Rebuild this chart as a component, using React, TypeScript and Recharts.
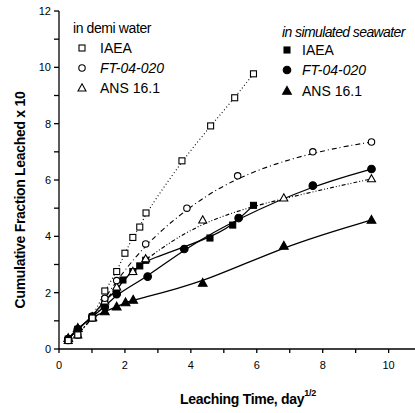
import React from "react";
import { LineChart, Line, XAxis, YAxis } from "recharts";

// in demi water
const demiIaeaX = [0.28, 0.57, 1.01, 1.39, 1.75, 2.0, 2.24, 2.45, 2.64, 3.73, 4.6, 5.33, 5.9];
const demiIaeaY = [0.3, 0.5, 1.1, 2.06, 2.75, 3.4, 3.96, 4.33, 4.83, 6.68, 7.92, 8.92, 9.77];
const demiFtX = [0.28, 0.57, 1.01, 1.39, 1.75, 2.63, 3.88, 5.42, 7.7, 9.48];
const demiFtY = [0.3, 0.5, 1.1, 1.8, 2.43, 3.73, 5.0, 6.15, 7.0, 7.35];
const demiAnsX = [0.28, 0.57, 1.01, 1.39, 1.75, 2.24, 2.63, 4.36, 6.82, 9.48];
const demiAnsY = [0.3, 0.5, 1.1, 1.7, 2.2, 2.75, 3.2, 4.58, 5.36, 6.04];

// in simulated seawater
const seaIaeaX = [0.28, 0.57, 1.01, 1.39, 1.75, 1.94, 2.24, 2.45, 2.63, 4.58, 5.27, 5.9];
const seaIaeaY = [0.35, 0.7, 1.15, 1.75, 2.05, 2.45, 2.75, 2.95, 3.15, 3.94, 4.4, 5.1];
const seaFtX = [0.28, 0.57, 1.01, 1.39, 1.75, 2.69, 3.8, 5.45, 7.7, 9.48];
const seaFtY = [0.35, 0.7, 1.15, 1.5, 1.95, 2.57, 3.55, 4.65, 5.8, 6.39];
const seaAnsX = [0.28, 0.57, 1.01, 1.39, 1.75, 2.02, 2.25, 4.36, 6.82, 9.48];
const seaAnsY = [0.38, 0.74, 1.13, 1.33, 1.5, 1.65, 1.74, 2.34, 3.66, 4.58];

const xTicks = [0, 1, 2, 3, 4, 5, 6, 7, 8, 9, 10];
const yTicks = [0, 1, 2, 3, 4, 5, 6, 7, 8, 9, 10, 11, 12];

const pts = (xs: number[], ys: number[]) => xs.map((x, i) => ({ x, y: ys[i] }));

const FONT = "'Liberation Sans', Arial, sans-serif";

const tri = (cx: number, cy: number, s: number) =>
  `${cx},${cy - s} ${cx + s * 0.95},${cy + s * 0.7} ${cx - s * 0.95},${cy + s * 0.7}`;

const mk = (kind: string, filled: boolean) => (p: any) => {
  const { cx, cy, index } = p;
  if (cx == null || cy == null) return <g key={index} />;
  const fill = filled ? "#000" : "#fff";
  if (kind === "sq")
    return <rect key={index} x={cx - 3} y={cy - 3} width={6} height={6} fill={fill} stroke="#000" strokeWidth={1.1} />;
  if (kind === "ci")
    return <circle key={index} cx={cx} cy={cy} r={filled ? 3.8 : 3.2} fill={fill} stroke="#000" strokeWidth={1.1} />;
  return <polygon key={index} points={tri(cx, cy, filled ? 4.6 : 4.2)} fill={fill} stroke="#000" strokeWidth={1.1} />;
};

const LegendSym = ({ kind, filled, x, y }: { kind: string; filled: boolean; x: number; y: number }) =>
  mk(kind, filled)({ cx: x, cy: y, index: 0 });

const tickStyle = { fontSize: 11, fill: "#000", fontFamily: FONT };

export default function App() {
  return (
    <div style={{ position: "absolute", left: 0, top: 0, width: 415, height: 413, background: "#fff" }}>
      <LineChart width={415} height={413} margin={{ top: 11, right: 0, bottom: 34, left: 0 }}>
        <XAxis
          type="number"
          dataKey="x"
          domain={[0, 10.8]}
          ticks={xTicks}
          tickFormatter={(v: number) => (v % 2 === 0 ? String(v) : "")}
          tickSize={4}
          tickMargin={8}
          height={30}
          stroke="#000"
          strokeWidth={1.3}
          tick={tickStyle}
          allowDataOverflow
        />
        <YAxis
          type="number"
          dataKey="y"
          domain={[0, 12]}
          ticks={yTicks}
          tickFormatter={(v: number) => (v % 2 === 0 ? String(v) : "")}
          tickSize={5}
          tickMargin={3}
          width={59}
          stroke="#000"
          strokeWidth={1.3}
          tick={tickStyle}
        />
        <Line data={pts(seaAnsX, seaAnsY)} dataKey="y" type="basis" stroke="#000" strokeWidth={1.3} dot={mk("tr", true)} activeDot={false} isAnimationActive={false} />
        <Line data={pts(seaFtX, seaFtY)} dataKey="y" type="basis" stroke="#000" strokeWidth={1.3} dot={mk("ci", true)} activeDot={false} isAnimationActive={false} />
        <Line data={pts(seaIaeaX, seaIaeaY)} dataKey="y" type="basis" stroke="#000" strokeWidth={1.3} dot={mk("sq", true)} activeDot={false} isAnimationActive={false} />
        <Line data={pts(demiAnsX, demiAnsY)} dataKey="y" type="basis" stroke="#000" strokeWidth={1.1} strokeDasharray="4 2 1 2 1 2" dot={mk("tr", false)} activeDot={false} isAnimationActive={false} />
        <Line data={pts(demiFtX, demiFtY)} dataKey="y" type="basis" stroke="#000" strokeWidth={1.1} strokeDasharray="5 3 1 3" dot={mk("ci", false)} activeDot={false} isAnimationActive={false} />
        <Line data={pts(demiIaeaX, demiIaeaY)} dataKey="y" type="basis" stroke="#000" strokeWidth={1.1} strokeDasharray="1 2.5" dot={mk("sq", false)} activeDot={false} isAnimationActive={false} />
      </LineChart>
      <svg width={415} height={413} style={{ position: "absolute", left: 0, top: 0, pointerEvents: "none" }}>
        <g fontFamily={FONT} fontSize={14} fill="#000">
          <text x={73} y={33} letterSpacing={-0.4}>in demi water</text>
          <LegendSym kind="sq" filled={false} x={82} y={48} />
          <text x={100} y={53}>IAEA</text>
          <LegendSym kind="ci" filled={false} x={82} y={68} />
          <text x={100} y={73} fontStyle="italic">FT-04-020</text>
          <LegendSym kind="tr" filled={false} x={82} y={88} />
          <text x={100} y={93}>ANS 16.1</text>

          <text x={282} y={37} fontStyle="italic" letterSpacing={-0.6}>in simulated seawater</text>
          <LegendSym kind="sq" filled={true} x={287} y={50} />
          <text x={302} y={55}>IAEA</text>
          <LegendSym kind="ci" filled={true} x={287} y={70} />
          <text x={302} y={75} fontStyle="italic">FT-04-020</text>
          <LegendSym kind="tr" filled={true} x={287} y={91} />
          <text x={302} y={96}>ANS 16.1</text>

          <text
            x={20}
            y={200}
            transform="rotate(-90 20 200)"
            textAnchor="middle"
            dominantBaseline="central"
            fontWeight="bold"
            letterSpacing={-0.3}
          >
            Cumulative Fraction Leached x 10
          </text>
          <text x={180} y={404} fontWeight="bold" letterSpacing={-0.3}>
            Leaching Time, day
            <tspan fontSize={9} dy={-8}>1/2</tspan>
          </text>
        </g>
      </svg>
    </div>
  );
}
